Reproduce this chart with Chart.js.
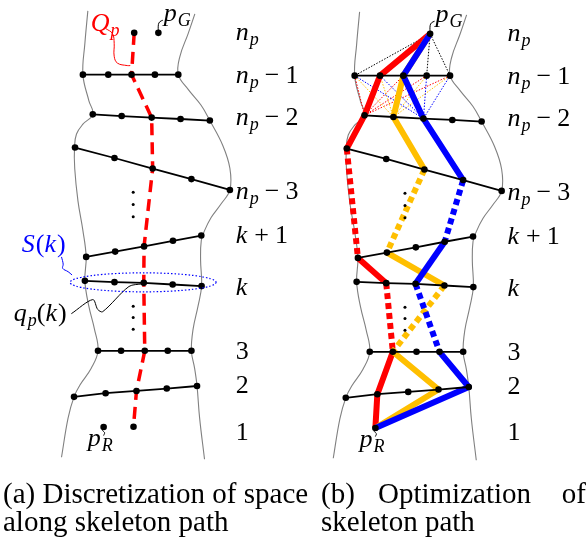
<!DOCTYPE html>
<html lang="en">
<head>
<meta charset="UTF-8">
<title>Skeleton path</title>
<style>
  body { margin: 0; background: #fff; }
  #fig { display: block; }
</style>
</head>
<body>
<canvas id="fig" width="588" height="544"></canvas>
<script src="https://cdn.jsdelivr.net/npm/chart.js"></script>
<script>
// outline of the skeleton (panel a units; panel b reuses it on shifted axes)
const leftEdge = [[85,7],[82,40],[80,71.7],[86,98],[90,112],[80,122],[73.5,132],[71.5,145],[71.7,167],[75,200],[80,230],[83.3,256.7],[82,281],[86,306.7],[91.7,330],[95.3,352],[88.3,370],[77,386.7],[71,398.7],[65,420],[58.3,460]];
const rightEdge = [[193.5,10],[186.7,30],[178.3,53.3],[176.7,71.7],[186.7,86.7],[200,103],[208.7,118.3],[221.7,143.3],[229,166.7],[229,188.7],[220,203],[210,216.7],[203.3,230],[200,240],[199.3,260],[200.3,286.3],[196.7,306.7],[191.7,330],[190,352],[193.3,370],[195.7,387.7],[198.3,420],[203.3,462]];

// cross sections, five candidate points each
const rowNp1 = [[80,71.7],[105.7,71.7],[129.3,71.7],[153,71.7],[176.7,71.7]];
const rowNp2 = [[90,112],[119.3,113.7],[149.7,115.3],[179,116.7],[208.7,118.3]];
const rowNp3 = [[72,145.7],[112,156.3],[150.7,167],[190,177.7],[229,188.7]];
const rowK1  = [[83.3,256.7],[112.7,251.3],[142,246],[171.3,240.3],[200,235]];
const rowK   = [[82,281],[112,282.3],[141.7,283],[171,284.7],[200.3,286.3]];
const row3   = [[95.3,352],[118.7,352],[142.7,352],[166,352],[190,352]];
const row2   = [[71,398.7],[103,395],[134.3,392.7],[165,390.3],[195.7,387.7]];
const rows = [rowNp1, rowNp2, rowNp3, rowK1, rowK, row3, row2];

const pG = [156.5, 29.3];
const pR = [101, 429.3];
const qTop = [132, 29.3];
const qBottom = [131.3, 429];
const dotsUpper = [[131,191],[131,203.5],[131,216]];
const dotsLower = [[131,306.7],[131,318.3],[131,330]];

// chosen point per row (np-1 ... 2) for each path
const qPick      = [2, 2, 2, 2, 2, 2, 2];
const redPick    = [1, 0, 0, 0, 1, 1, 1];
const yellowPick = [2, 1, 2, 1, 3, 1, 3];
const bluePick   = [2, 2, 3, 3, 2, 3, 4];
const dashedSeg  = [3, 5];

// row labels
const rowLabels = ['n_p − 1', 'n_p − 2', 'n_p − 3', 'k + 1', 'k', '3', '2', '1'];
const rowLabelY = [80, 123, 198, 243, 295, 360, 395, 442];

// connectors to the annotations
const qConn  = [[103.3,25],[110,30],[111.7,40],[111.7,53],[115,60],[125,62.5],[128,62.5]];
const sConn  = [[58.3,256.7],[60,264],[59.5,268.3],[65,271.7],[69,275]];
const qkConn = [[68.3,314.3],[90,300],[95,310],[100,312.3],[126.7,286.7],[140,284]];
const pGConn = [[156.5,29.3],[156.5,21],[158,18],[161,16.5]];
const pRConn = [[101,429.3],[100,433],[102,435],[101,438]];

const RED = '#ff0000', YELLOW = '#ffbf00', BLUE = '#0000ff';
const SERIF = '"Liberation Serif"';

const ds = []; // bottom to top
function line(pts, panel, style) {
  ds.push(Object.assign({
    data: pts.map(p => ({ x: p[0], y: p[1] })),
    xAxisID: panel === 'b' ? 'xb' : 'x',
    yAxisID: panel === 'b' ? 'yb' : 'y',
    showLine: true, pointRadius: 0, borderWidth: 1, borderColor: '#000',
    pointBackgroundColor: '#000', pointBorderWidth: 0, clip: false, fill: false
  }, style));
}
function pathOf(pick, start, end) {
  return [start, ...pick.map((j, i) => rows[i][j]), end];
}

['a', 'b'].forEach(p => {
  line(leftEdge, p, { borderColor: '#808080', borderWidth: 1.1, tension: 0.4 });
  line(rightEdge, p, { borderColor: '#808080', borderWidth: 1.1, tension: 0.4 });
});

// panel b: candidate connections
rowNp1.forEach(a => line([pG, a], 'b', { borderDash: [1.5, 1.5] }));
[RED, YELLOW, BLUE].forEach((c, j) => {
  rowNp1.forEach(a => line([a, rowNp2[j]], 'b', { borderColor: c, borderDash: [1.5, 1.5] }));
});

// panel b: optimized paths
[[redPick, RED], [yellowPick, YELLOW], [bluePick, BLUE]].forEach(([pick, c]) => {
  line(pathOf(pick, pG, pR), 'b', {
    borderColor: c, borderWidth: 6, borderJoinStyle: 'round',
    segment: { borderDash: ctx => dashedSeg.includes(ctx.p0DataIndex) ? [6, 4] : undefined }
  });
});

// panel a: skeleton path Q_p
line(pathOf(qPick, qTop, qBottom), 'a', { borderColor: RED, borderWidth: 3.5, borderDash: [12, 7] });

['a', 'b'].forEach(p => {
  rows.forEach(r => line(r, p, { borderWidth: 1.8, pointRadius: 3.3 }));
  line(dotsUpper, p, { showLine: false, pointRadius: 1.5 });
  line(dotsLower, p, { showLine: false, pointRadius: 1.5 });
  line(pGConn, p, { tension: 0.4 });
  line(pRConn, p, { tension: 0.4 });
  line([pG, pR], p, { showLine: false, pointRadius: 3.3 });
});
line([qTop, qBottom], 'a', { showLine: false, pointRadius: 3.3 });
line(qConn, 'a', { borderColor: RED, tension: 0.4 });
line(sConn, 'a', { borderColor: BLUE, tension: 0.4 });
line(qkConn, 'a', { tension: 0.3 });

const MAIN = 26, SUB = 18;
function drawMath(ctx, x, y, str, color) {
  ctx.fillStyle = color || '#000';
  ctx.textBaseline = 'alphabetic';
  ctx.textAlign = 'left';
  let cx = x;
  for (let i = 0; i < str.length; i++) {
    let ch = str[i], sub = false;
    if (ch === ' ') { cx += 6; continue; }
    if (ch === '_') { sub = true; ch = str[++i]; }
    const ital = /[A-Za-z]/.test(ch);
    ctx.font = (ital ? 'italic ' : '') + (sub ? SUB : MAIN) + 'px ' + SERIF;
    ctx.fillText(ch, cx, y + (sub ? 5 : 0));
    cx += ctx.measureText(ch).width + (ital && !sub ? 1 : 0);
  }
}

const annot = {
  id: 'annot',
  afterDatasetsDraw(chart) {
    const ctx = chart.ctx, s = chart.scales;
    const pos = (p, x, y) => [s[p === 'b' ? 'xb' : 'x'].getPixelForValue(x), s[p === 'b' ? 'yb' : 'y'].getPixelForValue(y)];
    ctx.save();
    // S(k) ellipse
    const [ex, ey] = pos('a', 141, 282.5);
    ctx.strokeStyle = BLUE; ctx.lineWidth = 1.2; ctx.setLineDash([1.5, 2]);
    ctx.beginPath(); ctx.ellipse(ex, ey, 73, 9.5, 0, 0, Math.PI * 2); ctx.stroke();
    ctx.setLineDash([]);

    ['a', 'b'].forEach(p => {
      let [x, y] = pos(p, 235, 37); drawMath(ctx, x, y, 'n_p');
      rowLabels.forEach((t, i) => { const [lx, ly] = pos(p, 235, rowLabelY[i]); drawMath(ctx, lx, ly, t); });
      [x, y] = pos(p, 162, 17); drawMath(ctx, x, y, 'p_G');
      [x, y] = pos(p, 85, 449); drawMath(ctx, x, y, 'p_R');
    });
    let [x, y] = pos('a', 88, 27); drawMath(ctx, x, y, 'Q_p', RED);
    [x, y] = pos('a', 18, 252); drawMath(ctx, x, y, 'S(k)', BLUE);
    [x, y] = pos('a', 10, 322); drawMath(ctx, x, y, 'q_p(k)');

    // captions
    ctx.fillStyle = '#000';
    ctx.font = '29px ' + SERIF;
    ctx.textAlign = 'left';
    ctx.fillText('(a) Discretization of space', 3, 503, 307);
    ctx.fillText('along skeleton path', 3, 531);
    ctx.fillText('(b)', 321, 503);
    ctx.fillText('Optimization', 378, 503);
    ctx.fillText('skeleton path', 321, 531);
    ctx.textAlign = 'right';
    ctx.fillText('of', 586, 503);
    ctx.restore();
  }
};

new Chart(document.getElementById('fig'), {
  type: 'scatter',
  data: { datasets: ds.slice().reverse() },
  options: {
    responsive: false,
    animation: false,
    events: [],
    layout: { padding: 0 },
    plugins: { legend: { display: false }, tooltip: { enabled: false } },
    scales: {
      x:  { type: 'linear', min: 0, max: 588, display: false },
      y:  { type: 'linear', min: 0, max: 544, reverse: true, display: false },
      xb: { type: 'linear', axis: 'x', min: -275.5, max: 312.5, display: false },
      yb: { type: 'linear', axis: 'y', min: -1, max: 543, reverse: true, display: false }
    }
  },
  plugins: [annot]
});
</script>
</body>
</html>
